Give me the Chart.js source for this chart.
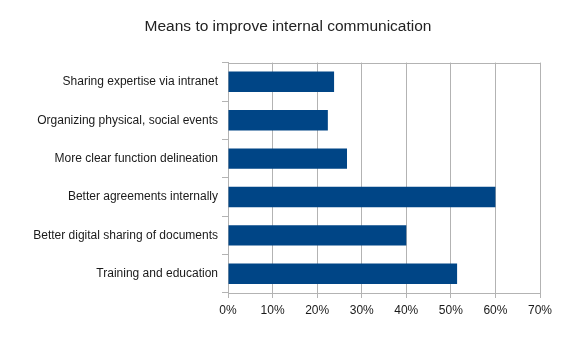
<!DOCTYPE html>
<html>
<head>
<meta charset="utf-8">
<script src="https://cdn.jsdelivr.net/npm/chart.js@4"></script>
<style>
    body { margin: 0; background: #fff; }
    #box { width: 576px; height: 341px; }
</style>
</head>
<body>
<div id="box"><canvas id="mychart"></canvas></div>
<script>
const categories = [
    'Sharing expertise via intranet',
    'Organizing physical, social events',
    'More clear function delineation',
    'Better agreements internally',
    'Better digital sharing of documents',
    'Training and education'
];
const shares = [23.8, 22.4, 26.7, 60, 40, 51.4];
const xTicks = [0, 10, 20, 30, 40, 50, 60, 70];

const gridGrey = '#b3b3b3';
Chart.defaults.font.family = '"Liberation Sans", Arial, sans-serif';
Chart.defaults.font.size = 12;
Chart.defaults.color = '#1a1a1a';

// thin line along the top edge of the plot area,
// and keep the title centred on the whole canvas
const frame = {
    id: 'frame',
    afterLayout(chart) {
        const t = chart.titleBlock;
        if (t) { t.left = 0; t.right = chart.width; t.width = chart.width; }
    },
    afterDraw(chart) {
        const a = chart.chartArea;
        const c = chart.ctx;
        c.save();
        c.strokeStyle = gridGrey;
        c.lineWidth = 1;
        c.beginPath();
        c.moveTo(a.left, Math.round(a.top) + 0.5);
        c.lineTo(a.right, Math.round(a.top) + 0.5);
        c.stroke();
        c.restore();
    }
};

const ctx = document.getElementById('mychart');
new Chart(ctx, {
    type: 'bar',
    data: {
        labels: categories,
        datasets: [{
            data: shares,
            backgroundColor: '#004586',
            barPercentage: 0.53,
            categoryPercentage: 1
        }]
    },
    options: {
        indexAxis: 'y',
        responsive: true,
        maintainAspectRatio: false,
        animation: false,
        layout: { padding: { left: 0, right: 36, top: 0, bottom: 0 } },
        plugins: {
            legend: { display: false },
            tooltip: { enabled: false },
            title: {
                display: true,
                text: 'Means to improve internal communication',
                font: { size: 15.5, weight: 'normal' },
                color: '#222',
                padding: { top: 17, bottom: 27 }
            }
        },
        scales: {
            x: {
                min: 0,
                max: 70,
                afterBuildTicks: (s) => { s.ticks = xTicks.map(v => ({ value: v })); },
                ticks: { callback: v => v + '%', padding: 5, maxRotation: 0 },
                grid: { color: gridGrey, tickLength: 5 },
                border: { color: gridGrey },
                afterFit: (s) => { s.height = 48; }
            },
            y: {
                grid: { offset: true, drawOnChartArea: false, color: gridGrey, tickLength: 6 },
                border: { color: gridGrey },
                ticks: { padding: 4 },
                afterFit: (s) => { s.width = 228; }
            }
        }
    },
    plugins: [frame]
});
</script>
</body>
</html>
